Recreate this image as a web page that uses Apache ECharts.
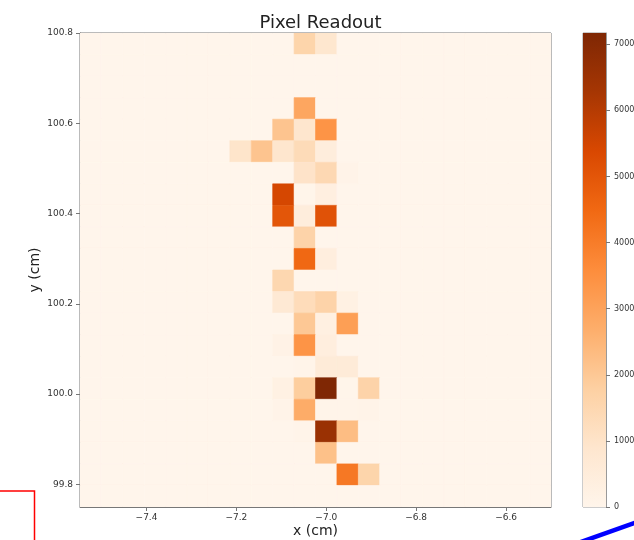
<!DOCTYPE html>
<html>
<head>
<meta charset="utf-8">
<title>Pixel Readout</title>
<script src="https://cdn.jsdelivr.net/npm/echarts@6/dist/echarts.min.js"></script>
<style>
  html, body { margin: 0; padding: 0; background: #ffffff; }
  #chart { width: 634px; height: 540px; }
</style>
</head>
<body>
<div id="chart"></div>
<script>
// Detector extent (cm) and pixel grid
const xExtent = [-7.548, -6.5];
const yExtent = [99.75, 100.8];
const nCols = 22;
const nRows = 22;

// Axis tick values
const xTicks = [-7.4, -7.2, -7.0, -6.8, -6.6];
const yTicks = [99.8, 100.0, 100.2, 100.4, 100.6, 100.8];
const colorTicks = [0, 1000, 2000, 3000, 4000, 5000, 6000, 7000];
const colorMax = 7170;

// Non-empty pixels: column index (from left), row index (from top), counts
const hitCol = [10, 11,
  10,
  9, 10, 11,
  7, 8, 9, 10, 11,
  10, 11, 12,
  9, 10, 11,
  9, 10, 11,
  10,
  10, 11,
  9,
  9, 10, 11, 12,
  10, 11, 12,
  9, 10, 11,
  10, 11, 12,
  9, 10, 11, 12, 13,
  9, 10, 11, 12, 13,
  10, 11, 12,
  11,
  12, 13];
const hitRow = [0, 0,
  3,
  4, 4, 4,
  5, 5, 5, 5, 5,
  6, 6, 6,
  7, 7, 7,
  8, 8, 8,
  9,
  10, 10,
  11,
  12, 12, 12, 12,
  13, 13, 13,
  14, 14, 14,
  15, 15, 15,
  16, 16, 16, 16, 16,
  17, 17, 17, 17, 17,
  18, 18, 18,
  19,
  20, 20];
const hitCounts = [1600, 850,
  2900,
  2100, 900, 3400,
  950, 2100, 900, 1350, 450,
  1000, 1450, 100,
  5450, 20, 350,
  5000, 450, 5100,
  1650,
  4500, 400,
  1500,
  700, 1300, 1650, 250,
  2000, 300, 3100,
  150, 3400, 400,
  50, 600, 600,
  250, 1850, 7170, 20, 1650,
  100, 2750, 60, 60, 100,
  60, 6550, 2300,
  2200,
  4100, 1600];

// matplotlib "Oranges" colour ramp
const oranges = ['#fff5eb', '#fee6ce', '#fdd0a2', '#fdae6b', '#fd8d3c',
                 '#f16913', '#d94801', '#a63603', '#7f2704'];

const cellW = (xExtent[1] - xExtent[0]) / nCols;
const cellH = (yExtent[1] - yExtent[0]) / nRows;

// Full pixel matrix: every pixel centre with its counts (zero where no hit)
const counts = {};
hitCol.forEach((c, i) => { counts[c + ',' + hitRow[i]] = hitCounts[i]; });
const pixels = [];
for (let r = 0; r < nRows; r++) {
  for (let c = 0; c < nCols; c++) {
    const xc = xExtent[0] + (c + 0.5) * cellW;
    const yc = yExtent[1] - (r + 0.5) * cellH;
    pixels.push([xc, yc, counts[c + ',' + r] || 0]);
  }
}

const fmt = v => (v < 0 ? '\u2212' : '') + Math.abs(v).toFixed(1);
const FONT = 'DejaVu Sans';
const axisGrey = '#777';
const textGrey = '#333';

const colorStops = oranges.map((c, i) => ({ offset: i / (oranges.length - 1), color: c }));

const chart = echarts.init(document.getElementById('chart'), null, { renderer: 'canvas' });
chart.setOption({
  backgroundColor: '#ffffff',
  animation: false,
  title: {
    text: 'Pixel Readout',
    left: 315.5,
    textAlign: 'center',
    top: 9,
    textStyle: { fontFamily: FONT, fontSize: 18, fontWeight: 'normal', color: '#222' }
  },
  grid: [
    { left: 80, top: 33, width: 471, height: 474, outerBoundsMode: 'none', show: true, borderColor: axisGrey, borderWidth: 1, backgroundColor: 'transparent' },
    { left: 583, top: 33, width: 23, height: 474, outerBoundsMode: 'none', show: true, borderColor: '#999', borderWidth: 1 }
  ],
  xAxis: [
    {
      gridIndex: 0, type: 'value', min: xExtent[0], max: xExtent[1],
      name: 'x (cm)', nameLocation: 'middle', nameGap: 17, nameMoveOverlap: false,
      nameTextStyle: { fontFamily: FONT, fontSize: 14, color: '#222' },
      axisLine: { show: true, onZero: false, lineStyle: { color: axisGrey } },
      axisTick: { show: true, length: 4, customValues: xTicks, lineStyle: { color: axisGrey } },
      axisLabel: { customValues: xTicks, formatter: fmt, fontFamily: FONT, fontSize: 9, color: textGrey, margin: 6 },
      splitLine: { show: false }
    },
    {
      gridIndex: 1, type: 'category', data: [''], show: false
    }
  ],
  yAxis: [
    {
      gridIndex: 0, type: 'value', min: yExtent[0], max: yExtent[1],
      name: 'y (cm)', nameLocation: 'middle', nameGap: 38, nameRotate: 90, nameMoveOverlap: false,
      nameTextStyle: { fontFamily: FONT, fontSize: 14, color: '#222' },
      axisLine: { show: true, onZero: false, lineStyle: { color: axisGrey } },
      axisTick: { show: true, length: 4, customValues: yTicks, lineStyle: { color: axisGrey } },
      axisLabel: { customValues: yTicks, formatter: v => v.toFixed(1), fontFamily: FONT, fontSize: 9, color: textGrey, margin: 7 },
      splitLine: { show: false }
    },
    {
      gridIndex: 1, type: 'value', position: 'right', min: 0, max: colorMax,
      axisLine: { show: true, lineStyle: { color: '#999' } },
      axisTick: { show: true, length: 4, customValues: colorTicks, lineStyle: { color: axisGrey } },
      axisLabel: { customValues: colorTicks, formatter: v => String(Math.round(v)), fontFamily: FONT, fontSize: 8, color: textGrey, margin: 8 },
      splitLine: { show: false }
    }
  ],
  visualMap: {
    type: 'continuous', show: false, seriesIndex: 0, dimension: 2,
    min: 0, max: colorMax, inRange: { color: oranges }
  },
  series: [
    {
      type: 'custom',
      xAxisIndex: 0, yAxisIndex: 0,
      clip: true,
      data: pixels,
      renderItem: function (params, api) {
        const xc = api.value(0), yc = api.value(1);
        const p0 = api.coord([xc - cellW / 2, yc + cellH / 2]);
        const p1 = api.coord([xc + cellW / 2, yc - cellH / 2]);
        const fill = api.visual('color');
        return {
          type: 'rect',
          shape: { x: p0[0], y: p0[1], width: p1[0] - p0[0], height: p1[1] - p0[1] },
          style: { fill: fill, stroke: fill, lineWidth: 0.6 }
        };
      }
    },
    {
      // colour bar
      type: 'bar',
      xAxisIndex: 1, yAxisIndex: 1,
      barWidth: '100%',
      silent: true,
      data: [colorMax],
      itemStyle: {
        color: { type: 'linear', x: 0, y: 1, x2: 0, y2: 0, colorStops: colorStops }
      }
    }
  ],
  graphic: [
    {
      type: 'rect', z: 100,
      shape: { x: -10, y: 491, width: 44.5, height: 70 },
      style: { fill: 'none', stroke: '#ff0000', lineWidth: 1.5 }
    },
    {
      type: 'line', z: 100,
      shape: { x1: 578, y1: 543, x2: 640, y2: 521 },
      style: { stroke: '#0000ff', lineWidth: 4.5 }
    }
  ]
});
</script>
</body>
</html>
